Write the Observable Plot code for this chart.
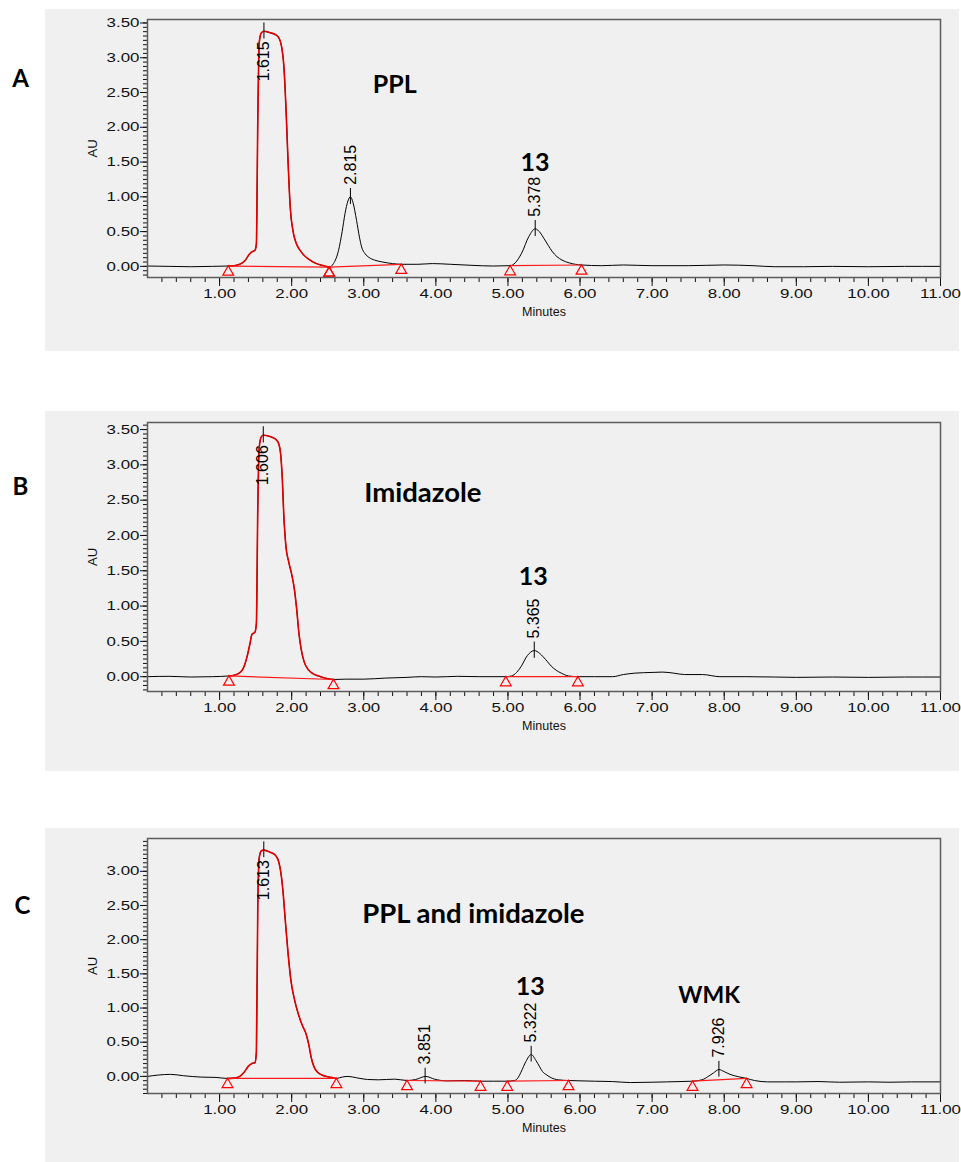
<!DOCTYPE html>
<html><head><meta charset="utf-8">
<script src="https://cdn.jsdelivr.net/npm/d3@7"></script>
<script src="https://cdn.jsdelivr.net/npm/@observablehq/plot@0.6"></script>
<style>
body{margin:0;background:#fff;}
#root{position:relative;width:961px;height:1162px;overflow:hidden;background:#fff;}
.bg{position:absolute;background:#f0f0f0;}
</style></head><body><div id="root"></div>
<script>
// ---------- shared tick labels ----------
const xMajor = [1, 2, 3, 4, 5, 6, 7, 8, 9, 10, 11];
const yMajorAB = [0, 0.5, 1, 1.5, 2, 2.5, 3, 3.5];
const yMajorC = [0, 0.5, 1, 1.5, 2, 2.5, 3];

// ---------- Panel A: PPL ----------
const traceA = [[0,0.005],[0.3,0.0],[0.6,-0.005],[0.9,0.0],[1.12,0.005],[1.2,0.01],[1.28,0.03],[1.35,0.08],[1.41,0.17],[1.45,0.21],[1.49,0.23],[1.51,0.32],[1.53,2.1],[1.55,3.22],[1.58,3.36],[1.615,3.38],[1.7,3.36],[1.78,3.33],[1.83,3.27],[1.86,3.16],[1.89,2.9],[1.92,2.3],[1.95,1.5],[1.98,0.85],[2.02,0.5],[2.06,0.34],[2.11,0.24],[2.17,0.16],[2.24,0.1],[2.32,0.05],[2.42,0.015],[2.52,-0.01],[2.58,0.04],[2.65,0.23],[2.7,0.5],[2.74,0.76],[2.78,0.94],[2.815,1.0],[2.85,0.92],[2.9,0.66],[2.94,0.42],[2.97,0.28],[3.02,0.18],[3.07,0.13],[3.15,0.09],[3.25,0.065],[3.4,0.04],[3.52,0.03],[3.75,0.03],[3.95,0.04],[4.2,0.03],[4.5,0.015],[4.8,0.005],[5.03,0.01],[5.1,0.05],[5.19,0.19],[5.29,0.43],[5.378,0.54],[5.45,0.48],[5.5,0.4],[5.56,0.3],[5.61,0.22],[5.68,0.14],[5.75,0.09],[5.85,0.05],[6.02,0.02],[6.3,0.01],[6.6,0.02],[7.0,0.01],[7.5,0.01],[8.0,0.02],[8.4,0.01],[8.7,-0.005],[9.1,-0.005],[9.5,0.0],[10.0,-0.005],[10.5,0.0],[11.0,0.0]];
const redA = [[1.12, 2.52]];
const baselinesA = [[1.12,0.005,2.52,-0.01],[2.52,-0.01,3.52,0.03],[5.03,0.01,6.02,0.02]];
const peaksA = [[1.615,3.38,"1.615",true],[2.815,1.0,"2.815",false],[5.378,0.54,"5.378",false]];
const notesA = [["PPL",3.43,2.61],["13",5.375,1.49]];

// ---------- Panel B: Imidazole ----------
const traceB = [[0,0.0],[0.3,0.005],[0.6,-0.005],[0.9,0.0],[1.13,0.01],[1.2,0.02],[1.27,0.05],[1.33,0.12],[1.38,0.28],[1.42,0.46],[1.45,0.6],[1.49,0.63],[1.51,0.75],[1.53,2.4],[1.55,3.25],[1.58,3.4],[1.606,3.42],[1.7,3.4],[1.78,3.36],[1.82,3.3],[1.85,3.12],[1.87,2.8],[1.89,2.3],[1.92,1.85],[1.96,1.62],[2.0,1.45],[2.04,1.22],[2.07,0.95],[2.1,0.62],[2.13,0.4],[2.17,0.22],[2.23,0.1],[2.3,0.04],[2.4,0.0],[2.5,-0.03],[2.58,-0.04],[2.75,-0.035],[3.0,-0.035],[3.3,-0.02],[3.6,-0.01],[3.8,0.0],[4.0,-0.005],[4.3,0.005],[4.6,0.0],[4.97,0.0],[5.05,0.01],[5.12,0.06],[5.18,0.14],[5.27,0.3],[5.365,0.37],[5.44,0.33],[5.49,0.28],[5.55,0.21],[5.6,0.15],[5.67,0.09],[5.74,0.05],[5.84,0.01],[5.97,0.0],[6.2,0.0],[6.45,0.0],[6.6,0.03],[6.76,0.05],[7.0,0.06],[7.14,0.065],[7.3,0.05],[7.45,0.03],[7.7,0.03],[7.94,0.0],[8.3,0.0],[8.7,-0.005],[9.0,-0.01],[9.5,-0.005],[10.0,-0.01],[10.5,-0.005],[11.0,-0.005]];
const redB = [[1.13, 2.58]];
const baselinesB = [[1.13,0.01,2.58,-0.04],[4.97,0.0,5.97,0.0]];
const peaksB = [[1.606,3.42,"1.606",true],[5.365,0.37,"5.365",false]];
const notesB = [["Imidazole",3.82,2.6],["13",5.35,1.41]];

// ---------- Panel C: PPL and imidazole ----------
const traceC = [[0,0.0],[0.15,0.02],[0.32,0.03],[0.5,0.01],[0.74,-0.01],[0.95,-0.015],[1.11,-0.03],[1.2,-0.025],[1.28,0.0],[1.34,0.06],[1.4,0.15],[1.45,0.19],[1.49,0.2],[1.51,0.35],[1.53,2.5],[1.55,3.2],[1.58,3.3],[1.613,3.31],[1.7,3.28],[1.77,3.24],[1.82,3.14],[1.85,2.98],[1.88,2.7],[1.91,2.3],[1.95,1.8],[1.99,1.4],[2.04,1.12],[2.09,0.92],[2.15,0.74],[2.2,0.62],[2.24,0.45],[2.27,0.28],[2.31,0.14],[2.36,0.06],[2.42,0.02],[2.52,-0.01],[2.62,-0.03],[2.7,-0.01],[2.78,0.0],[2.9,-0.02],[3.05,-0.045],[3.2,-0.05],[3.43,-0.04],[3.6,-0.06],[3.72,-0.045],[3.86,0.0],[3.98,-0.04],[4.15,-0.065],[4.4,-0.06],[4.62,-0.07],[4.8,-0.07],[4.99,-0.07],[5.09,-0.06],[5.14,-0.02],[5.18,0.06],[5.25,0.22],[5.322,0.32],[5.39,0.23],[5.44,0.14],[5.48,0.07],[5.54,0.02],[5.6,-0.02],[5.7,-0.05],[5.84,-0.06],[6.0,-0.065],[6.2,-0.07],[6.45,-0.075],[6.7,-0.09],[7.0,-0.085],[7.2,-0.08],[7.4,-0.075],[7.56,-0.07],[7.69,-0.05],[7.78,0.0],[7.85,0.05],[7.926,0.1],[8.0,0.07],[8.08,0.03],[8.2,-0.005],[8.31,-0.03],[8.42,-0.06],[8.6,-0.08],[8.85,-0.08],[9.0,-0.08],[9.3,-0.075],[9.6,-0.085],[10.0,-0.08],[10.3,-0.085],[10.6,-0.08],[11.0,-0.08]];
const redC = [[1.11, 2.62]];
const baselinesC = [[1.11,-0.03,2.62,-0.03],[3.6,-0.06,4.62,-0.07],[4.99,-0.07,5.84,-0.06],[7.56,-0.07,8.31,-0.03]];
const peaksC = [[1.613,3.31,"1.613",true],[3.851,0.0,"3.851",false],[5.322,0.32,"5.322",false],[7.926,0.1,"7.926",false]];
const notesC = [["PPL and imidazole",4.52,2.38],["13",5.31,1.31],["WMK",7.79,1.18]];

// ---------- drawing ----------
const root = document.getElementById("root");
const TICKFONT = "'Liberation Sans', Arial, Helvetica, sans-serif";
const BOLDFONT = "Lato, 'Open Sans', sans-serif";

function stretch(svg) {
  svg.querySelectorAll('g[aria-label$="tick label"] text, g[aria-label="stretch"] text').forEach(t => {
    const tr = t.getAttribute("transform") || "";
    if (/rotate/.test(tr)) t.setAttribute("transform", tr + " scale(1,1.3)");
    else if (tr) t.setAttribute("transform", tr + " scale(1.3,1)");
    else {
      const x = +t.getAttribute("x") || 0, y = +t.getAttribute("y") || 0;
      t.setAttribute("transform", `translate(${x},${y}) scale(1.3,1) translate(${-x},${-y})`);
    }
  });
}

// Lato is a little narrower than the original Calibri in lowercase, wider in "WMK"
function noteSize(label) {
  if (/[a-z]/.test(label)) return 27.5;
  if (label === "WMK") return 23;
  return 25;
}

function panel(cfg) {
  const bg = document.createElement("div");
  bg.className = "bg";
  Object.assign(bg.style, {left: "45px", top: cfg.top + "px", width: "914px", height: cfg.height + "px"});
  root.appendChild(bg);

  const [y0, y1] = cfg.yDomain;
  const yMinor = d3.range(-4, 60).map(k => k * 0.0625).filter(v => v >= y0 && v <= y1);
  const xMinor = d3.range(1, 56).map(k => +(k * 0.2).toFixed(1)).filter(v => v <= 11);
  const pts = cfg.trace.map(([t, au]) => ({t, au}));
  const reds = cfg.red.map(([a, b]) => pts.filter(d => d.t >= a && d.t <= b));
  const segs = cfg.baselines.map(([t1, v1, t2, v2]) => ({t1, v1, t2, v2}));
  const drops = segs.flatMap(s => [{t: s.t1, au: s.v1}, {t: s.t2, au: s.v2}]);
  const peaks = cfg.peaks.map(([t, au, label, below]) => ({t, au, label, below}));
  const notes = cfg.notes.map(([label, t, au]) => ({label, t, au}));

  const svg = Plot.plot({
    width: 961, height: cfg.height,
    marginLeft: 147, marginRight: 21, marginTop: cfg.mt, marginBottom: cfg.mb,
    style: {background: "transparent", fontFamily: TICKFONT, overflow: "visible", color: "#111"},
    x: {domain: [0, 11]},
    y: {domain: cfg.yDomain},
    marks: [
      Plot.axisY({ticks: yMinor, tickSize: 4, tickFormat: () => "", label: null}),
      Plot.axisY({ticks: cfg.yMajor, tickSize: 7, tickPadding: 1, tickFormat: d3.format(".2f"), label: null, fontSize: 13}),
      Plot.axisX({ticks: xMinor, tickSize: 5, tickFormat: () => "", label: null}),
      Plot.axisX({ticks: xMajor, tickSize: 9, tickPadding: 2, tickFormat: d3.format(".2f"), label: null, fontSize: 13}),
      Plot.line(pts, {x: "t", y: "au", stroke: "#000", strokeWidth: 1, curve: "monotone-x"}),
      ...reds.map(r => Plot.line(r, {x: "t", y: "au", stroke: "#e00000", strokeWidth: 1.6, curve: "monotone-x"})),
      Plot.link(segs, {x1: "t1", y1: "v1", x2: "t2", y2: "v2", stroke: "#ff1a1a", strokeWidth: 1.2}),
      Plot.dot(drops, {x: "t", y: "au", symbol: "triangle", r: 4, stroke: "#ff0000", fill: "none", strokeWidth: 1.2, dy: 6}),
      Plot.ruleX(peaks, {x: "t", y1: d => d.au - 0.11, y2: d => d.au + 0.12, stroke: "#000", strokeWidth: 1}),
      Plot.text(peaks.filter(p => !p.below), {x: "t", y: "au", text: "label", rotate: -90, textAnchor: "start", lineAnchor: "middle", dy: -12, fontSize: 16, fill: "#000", ariaLabel: "stretch"}),
      Plot.text(peaks.filter(p => p.below), {x: "t", y: "au", text: "label", rotate: -90, textAnchor: "end", lineAnchor: "middle", dy: 10, fontSize: 16, fill: "#000", ariaLabel: "stretch"}),
      Plot.text(notes, {x: "t", y: "au", text: "label", fontFamily: BOLDFONT, fontWeight: "bold", fontSize: d => noteSize(d.label), fill: "#000", lineAnchor: "middle", textAnchor: "middle"}),
      Plot.text(["AU"], {frameAnchor: "left", dx: -55, rotate: -90, textAnchor: "middle", lineAnchor: "middle", fontSize: 13, fill: "#111", ariaLabel: "stretch"}),
      Plot.text(["Minutes"], {frameAnchor: "bottom", dy: 30, textAnchor: "middle", lineAnchor: "top", fontSize: 12.5, fill: "#111", ariaLabel: "stretch"}),
      Plot.text([cfg.letter], {frameAnchor: "top-left", dx: cfg.ldx, dy: cfg.ldy, textAnchor: "middle", lineAnchor: "middle", fontFamily: BOLDFONT, fontWeight: "bold", fontSize: 24, fill: "#000"}),
      Plot.frame({stroke: "#5c5c5c", strokeWidth: 1.5})
    ]
  });
  stretch(svg);
  Object.assign(svg.style, {position: "absolute", left: "0px", top: cfg.top + "px"});
  root.appendChild(svg);
}

panel({top: 9, height: 342, mt: 10, mb: 74, yDomain: [-0.16, 3.55], yMajor: yMajorAB,
  trace: traceA, red: redA, baselines: baselinesA, peaks: peaksA, notes: notesA, letter: "A", ldx: -127, ldy: 60});
panel({top: 411, height: 360, mt: 11, mb: 80, yDomain: [-0.21, 3.60], yMajor: yMajorAB,
  trace: traceB, red: redB, baselines: baselinesB, peaks: peaksB, notes: notesB, letter: "B", ldx: -127, ldy: 65});
panel({top: 828, height: 334, mt: 10, mb: 69, yDomain: [-0.25, 3.48], yMajor: yMajorC,
  trace: traceC, red: redC, baselines: baselinesC, peaks: peaksC, notes: notesC, letter: "C", ldx: -125, ldy: 68});
</script></body></html>
